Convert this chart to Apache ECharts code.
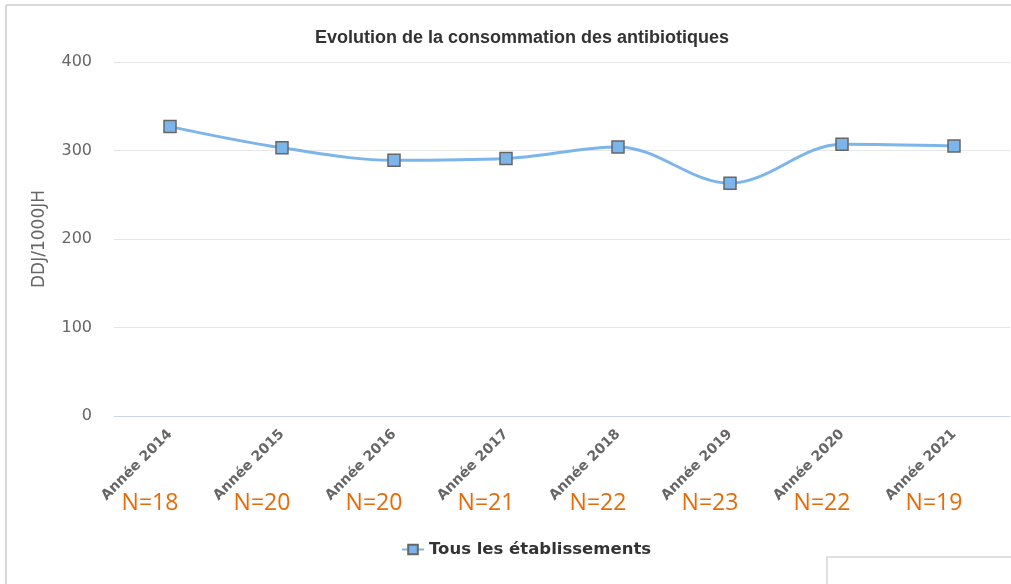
<!DOCTYPE html>
<html>
<head>
<meta charset="utf-8">
<script src="https://cdn.jsdelivr.net/npm/echarts@6/dist/echarts.min.js"></script>
<style>
  html, body { margin: 0; padding: 0; background: #fff; }
  #chart { width: 1011px; height: 584px; }
</style>
</head>
<body>
<div id="chart"></div>
<script>
// catégories (années) et effectifs
const annees = ['Année 2014', 'Année 2015', 'Année 2016', 'Année 2017', 'Année 2018', 'Année 2019', 'Année 2020', 'Année 2021']
const effectifs = ['N=18', 'N=20', 'N=20', 'N=21', 'N=22', 'N=23', 'N=22', 'N=19']
// DDJ/1000JH
const consommation = [327, 303, 289, 291, 304, 263, 307, 305]
const yTicks = [0, 100, 200, 300, 400]

const myChart = echarts.init(document.getElementById('chart'))

myChart.setOption({
  animation: false,
  backgroundColor: '#fff',
  title: {
    text: 'Evolution de la consommation des antibiotiques',
    left: 310,
    top: 24,
    textStyle: { fontFamily: 'Liberation Sans', fontSize: 18, fontWeight: 'bold', color: '#333' }
  },
  grid: { left: 114, right: 1, top: 62, bottom: 168, containLabel: false },
  legend: {
    bottom: 21,
    left: 396,
    itemWidth: 22,
    itemHeight: 12,
    itemGap: 6,
    textStyle: { fontFamily: 'DejaVu Sans', fontSize: 16.5, fontWeight: 'bold', color: '#333' }
  },
  xAxis: [
    {
      type: 'category',
      data: annees,
      boundaryGap: true,
      axisLine: { show: true, lineStyle: { color: '#ccd6eb', width: 1 } },
      axisTick: { show: false },
      axisLabel: {
        rotate: 45,
        margin: 16,
        interval: 0,
        fontFamily: 'DejaVu Sans',
        fontWeight: 'bold',
        fontSize: 14,
        color: '#666'
      }
    },
    {
      // effectifs sous les années
      type: 'category',
      data: effectifs,
      position: 'bottom',
      gridIndex: 0,
      axisLine: { show: false },
      axisTick: { show: false },
      splitLine: { show: false },
      axisLabel: {
        interval: 0,
        margin: 76,
        padding: [0, 40, 0, 0],
        fontFamily: 'Open Sans',
        fontSize: 23,
        color: '#E46C0A'
      }
    }
  ],
  yAxis: {
    type: 'value',
    min: yTicks[0],
    max: yTicks[yTicks.length - 1],
    interval: 100,
    name: 'DDJ/1000JH',
    nameLocation: 'middle',
    nameGap: 66,
    nameRotate: 90,
    nameTextStyle: { fontFamily: 'DejaVu Sans', fontSize: 17, color: '#666' },
    axisLine: { show: false },
    axisTick: { show: false },
    axisLabel: { margin: 22, fontFamily: 'DejaVu Sans', fontSize: 16, color: '#666' },
    splitLine: { lineStyle: { color: '#e6e6e6', width: 1 } }
  },
  series: [
    {
      name: 'Tous les établissements',
      type: 'line',
      data: consommation,
      smooth: 0.35,
      symbol: 'rect',
      symbolSize: 12,
      lineStyle: { color: '#7cb5ec', width: 3 },
      itemStyle: { color: '#7cb5ec', borderColor: '#666', borderWidth: 1.5 }
    }
  ],
  graphic: [
    // cadre de la capture
    { type: 'line', shape: { x1: 6, y1: 5, x2: 1011, y2: 5 }, style: { stroke: '#d9d9d9', lineWidth: 2 } },
    { type: 'line', shape: { x1: 6, y1: 5, x2: 6, y2: 584 }, style: { stroke: '#d9d9d9', lineWidth: 2 } },
    { type: 'rect', shape: { x: 827, y: 557, width: 200, height: 40 }, style: { fill: '#fff', stroke: '#e0e0e0', lineWidth: 2 } }
  ]
})
</script>
</body>
</html>
